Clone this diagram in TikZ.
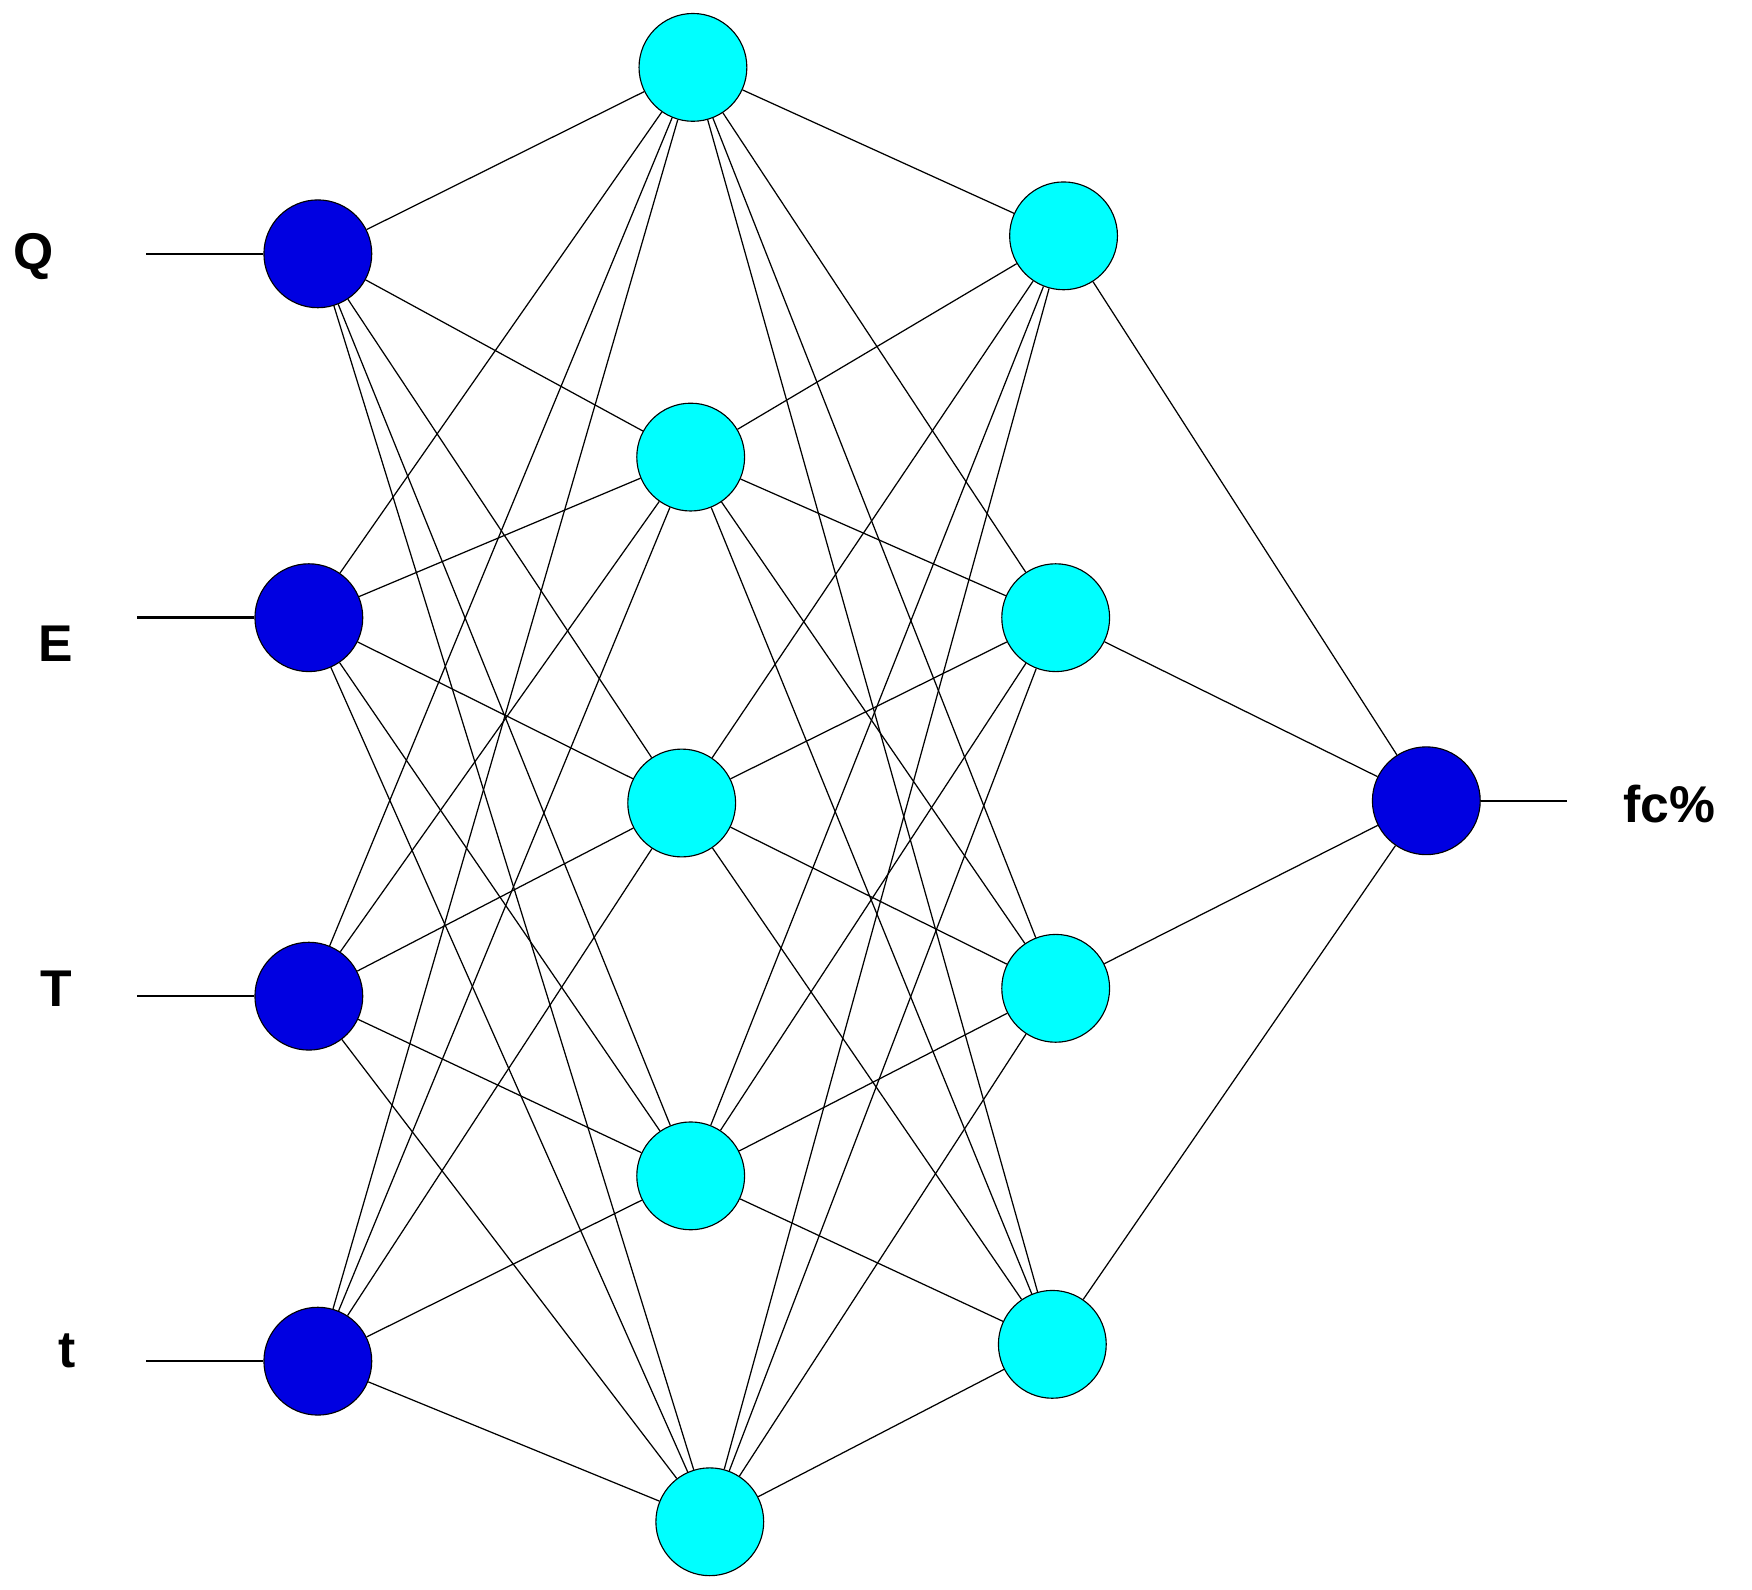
\documentclass[tikz,border=0pt]{standalone}
\usepackage{fontspec}
\setmainfont{Liberation Sans}
\definecolor{cyn}{RGB}{0,255,255}
\definecolor{blu}{RGB}{0,0,225}
\begin{document}
\begin{tikzpicture}[x=1pt,y=-1pt,
  inp/.style={circle,draw=black,line width=1pt,fill=blu,minimum size=96pt,inner sep=0pt},
  hid/.style={circle,draw=black,line width=1pt,fill=cyn,minimum size=96pt,inner sep=0pt},
  lbl/.style={font=\fontsize{46}{46}\selectfont\bfseries},
  edge/.style={line width=1.1pt},
  io/.style={line width=2.2pt}]
\useasboundingbox (0,0) rectangle (1560,1415);
\node[inp] (i1) at (283,226) {};
\node[inp] (i2) at (275,550) {};
\node[inp] (i3) at (275,887) {};
\node[inp] (i4) at (283,1212) {};
\node[hid] (h1) at (617,60) {};
\node[hid] (h2) at (615,407) {};
\node[hid] (h3) at (607,715) {};
\node[hid] (h4) at (615,1047) {};
\node[hid] (h5) at (632,1355) {};
\node[hid] (g1) at (947,210) {};
\node[hid] (g2) at (940,550) {};
\node[hid] (g3) at (940,880) {};
\node[hid] (g4) at (937,1197) {};
\node[inp] (o) at (1270,713) {};
\node[lbl] (lQ) at (30,228) {Q};
\node[lbl] (lE) at (50,573) {E};
\node[lbl] (lT) at (50,880) {T};
\node[lbl] (lt) at (60,1203) {t};
\node[lbl,anchor=west] (lf) at (1442,716) {fc\%};
\coordinate (a1) at (130,226);
\coordinate (a2) at (122,550);
\coordinate (a3) at (122,887);
\coordinate (a4) at (130,1212);
\coordinate (b) at (1395,713);
\foreach \i in {1,...,4} {\draw[io] (a\i) -- (i\i);}
\draw[io] (o) -- (b);
\foreach \i in {1,...,4} \foreach \h in {1,...,5} {\draw[edge] (i\i) -- (h\h);}
\foreach \h in {1,...,5} \foreach \g in {1,...,4} {\draw[edge] (h\h) -- (g\g);}
\foreach \g in {1,...,4} {\draw[edge] (g\g) -- (o);}
\end{tikzpicture}
\end{document}
